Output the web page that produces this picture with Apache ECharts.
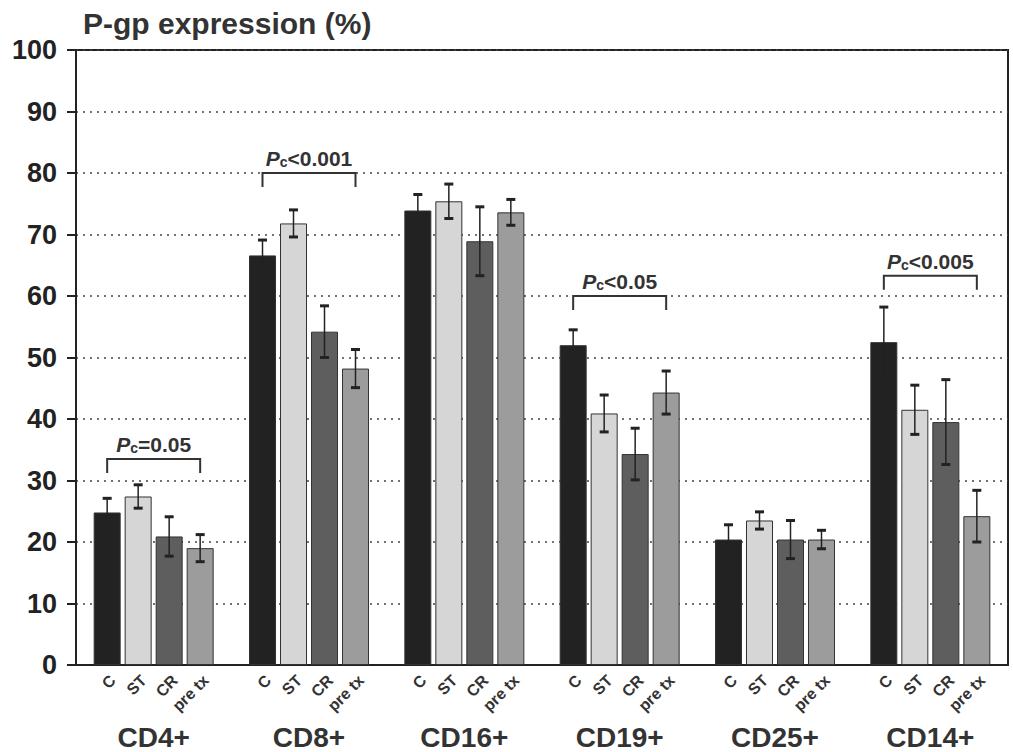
<!DOCTYPE html>
<html>
<head>
<meta charset="utf-8">
<script src="https://cdn.jsdelivr.net/npm/echarts@6/dist/echarts.min.js"></script>
<style>
    html, body {
        margin: 0;
        padding: 0;
        background: #fff;
    }

    #chart {
        width: 1013px;
        height: 752px;
    }
</style>
</head>
<body>
<div id="chart"></div>
<script>
const groups = ["CD4+", "CD8+", "CD16+", "CD19+", "CD25+", "CD14+"];
const conditions = ["C", "ST", "CR", "pre tx"];

// mean P-gp expression (%) per group
const meanC = [24.8, 66.6, 73.9, 52.0, 20.4, 52.5];
const meanST = [27.4, 71.8, 75.4, 40.9, 23.5, 41.5];
const meanCR = [20.9, 54.2, 68.9, 34.3, 20.4, 39.5];
const meanPre = [19.0, 48.2, 73.6, 44.3, 20.4, 24.2];

// error bar half length
const errC = [2.3, 2.5, 2.6, 2.5, 2.4, 5.7];
const errST = [1.9, 2.2, 2.8, 3.0, 1.4, 4.0];
const errCR = [3.2, 4.2, 5.6, 4.2, 3.1, 6.9];
const errPre = [2.2, 3.1, 2.1, 3.5, 1.5, 4.2];

// significance brackets
const bracketGroup = [0, 1, 3, 5];
const bracketLevel = [33.5, 80, 60, 63.3];
const bracketText = ["=0.05", "<0.001", "<0.05", "<0.005"];

const yTicks = [0, 100, 10];

const barColors = ["#222222", "#d6d6d6", "#5e5e5e", "#9c9c9c"];
const means = [meanC, meanST, meanCR, meanPre];
const errs = [errC, errST, errCR, errPre];

const barW = 27;
const gapPx = 4;
const offsetOf = (s) => (s - 1.5) * (barW + gapPx);

const errData = [];
means.forEach((arr, s) => {
    arr.forEach((v, g) => {
        errData.push([g, s, v, errs[s][g]]);
    });
});

const subLabelData = [];
groups.forEach((name, g) => {
    conditions.forEach((c, s) => {
        subLabelData.push([g, s]);
    });
});

const bracketData = bracketGroup.map((g, i) => [g, bracketLevel[i], i]);

const chart = echarts.init(document.getElementById("chart"), null, { renderer: "svg" });

const option = {
    backgroundColor: "#ffffff",
    animation: false,
    title: {
        text: "P-gp expression (%)",
        left: 78,
        top: 3,
        textStyle: {
            fontFamily: "Liberation Sans",
            fontSize: 30,
            fontWeight: "bold",
            color: "#333",
        },
    },
    grid: {
        left: 76,
        right: 5,
        top: 50,
        bottom: 87,
        show: true,
        borderColor: "#222",
        borderWidth: 2,
        backgroundColor: "transparent",
    },
    xAxis: {
        type: "category",
        data: groups,
        axisTick: { show: false },
        axisLine: {
            lineStyle: { color: "#222", width: 2 },
        },
        axisLabel: {
            margin: 58,
            fontFamily: "Liberation Sans",
            fontSize: 28,
            fontWeight: "bold",
            color: "#333",
        },
    },
    yAxis: {
        type: "value",
        min: yTicks[0],
        max: yTicks[1],
        interval: yTicks[2],
        axisLine: {
            show: true,
            lineStyle: { color: "#222", width: 2 },
        },
        axisTick: {
            show: true,
            length: 9,
            lineStyle: { color: "#222", width: 2 },
        },
        axisLabel: {
            margin: 19,
            fontFamily: "Liberation Sans",
            fontSize: 27,
            fontWeight: "bold",
            color: "#222",
        },
        splitLine: {
            show: true,
            lineStyle: {
                type: [2, 5],
                color: "#444",
                width: 1.5,
            },
        },
    },
    series: [
        ...conditions.map((name, s) => ({
            name: name,
            type: "bar",
            barWidth: barW,
            barGap: (gapPx / barW * 100) + "%",
            itemStyle: {
                color: barColors[s],
                borderColor: "#333",
                borderWidth: 1,
            },
            data: means[s],
        })),
        {
            // error bars
            type: "custom",
            z: 5,
            data: errData,
            encode: { x: 0, y: 2 },
            renderItem: (params, api) => {
                const g = api.value(0);
                const s = api.value(1);
                const v = api.value(2);
                const e = api.value(3);
                const x = api.coord([g, v])[0] + offsetOf(s);
                const yTop = api.coord([g, v + e])[1];
                const yBot = api.coord([g, v - e])[1];
                const style = { stroke: "#222", lineWidth: 1.5 };
                const cap = { stroke: "#222", lineWidth: 3 };
                return {
                    type: "group",
                    children: [
                        { type: "line", shape: { x1: x, y1: yTop, x2: x, y2: yBot }, style: style },
                        { type: "line", shape: { x1: x - 4.5, y1: yTop, x2: x + 4.5, y2: yTop }, style: cap },
                        { type: "line", shape: { x1: x - 4.5, y1: yBot, x2: x + 4.5, y2: yBot }, style: cap },
                    ],
                };
            },
        },
        {
            // condition labels under each bar
            type: "custom",
            z: 5,
            data: subLabelData,
            encode: { x: 0 },
            renderItem: (params, api) => {
                const g = api.value(0);
                const s = api.value(1);
                const pt = api.coord([g, 0]);
                return {
                    type: "text",
                    x: pt[0] + offsetOf(s),
                    y: pt[1] + 7,
                    rotation: Math.PI / 4,
                    style: {
                        text: conditions[s],
                        align: "right",
                        verticalAlign: "top",
                        fontFamily: "Liberation Sans",
                        fontSize: 16,
                        fontWeight: "bold",
                        fill: "#333",
                    },
                };
            },
        },
        {
            // significance brackets
            type: "custom",
            z: 5,
            data: bracketData,
            encode: { x: 0, y: 1 },
            renderItem: (params, api) => {
                const g = api.value(0);
                const lvl = api.value(1);
                const i = api.value(2);
                const pt = api.coord([g, lvl]);
                const x0 = pt[0] + offsetOf(0);
                const x1 = pt[0] + offsetOf(3);
                const y = pt[1];
                return {
                    type: "group",
                    children: [
                        {
                            type: "polyline",
                            shape: { points: [[x0, y + 14], [x0, y], [x1, y], [x1, y + 14]] },
                            style: { stroke: "#333", lineWidth: 2, fill: null },
                        },
                        {
                            type: "text",
                            x: pt[0],
                            y: y - 4,
                            style: {
                                text: "{p|P}{c|c}{v|" + bracketText[i] + "}",
                                align: "center",
                                verticalAlign: "bottom",
                                fill: "#333",
                                rich: {
                                    p: {
                                        fontFamily: "Liberation Sans",
                                        fontSize: 21,
                                        fontStyle: "italic",
                                        fontWeight: "bold",
                                        lineHeight: 26,
                                        verticalAlign: "bottom",
                                        fill: "#333",
                                    },
                                    c: {
                                        fontFamily: "Liberation Sans",
                                        fontSize: 14,
                                        fontWeight: "bold",
                                        lineHeight: 13,
                                        verticalAlign: "bottom",
                                        fill: "#333",
                                    },
                                    v: {
                                        fontFamily: "Liberation Sans",
                                        fontSize: 21,
                                        fontWeight: "bold",
                                        lineHeight: 26,
                                        verticalAlign: "bottom",
                                        fill: "#333",
                                    },
                                },
                            },
                        },
                    ],
                };
            },
        },
    ],
};

chart.setOption(option);
</script>
</body>
</html>
